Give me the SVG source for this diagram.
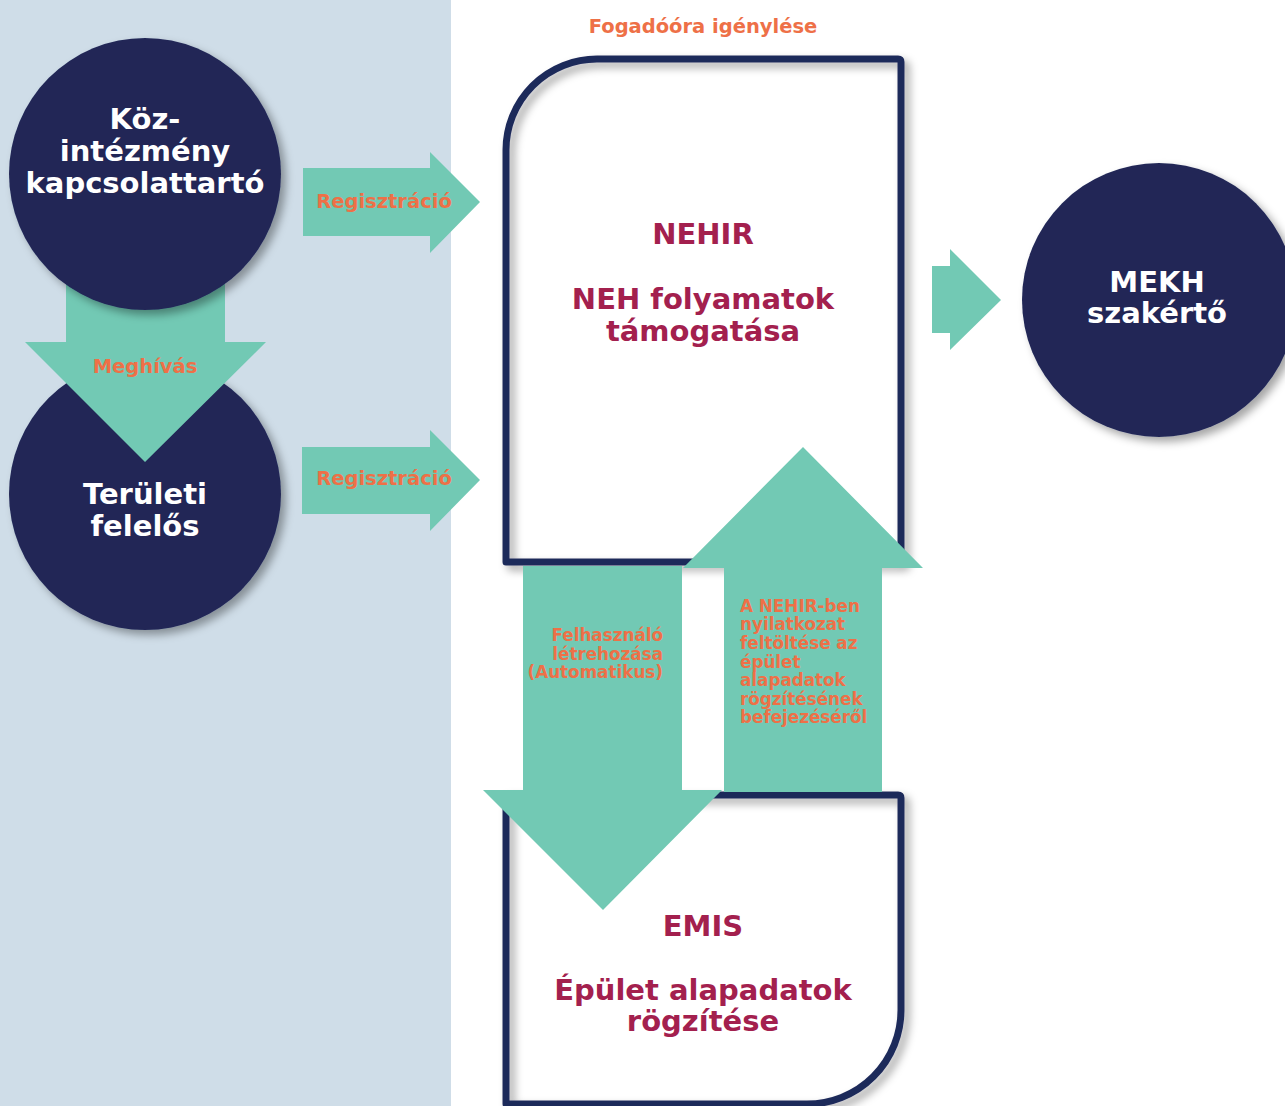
<svg xmlns="http://www.w3.org/2000/svg" width="1285" height="1106" viewBox="0 0 1285 1106">
<defs>
<filter id="sh" x="-20%" y="-20%" width="140%" height="140%">
<feDropShadow dx="5" dy="5" stdDeviation="4" flood-color="#000" flood-opacity="0.35"/>
</filter>
<style>
.circ{fill:#212857;filter:url(#sh)}
.box{fill:none;stroke:#1f2a5a;stroke-width:7;stroke-linejoin:round;filter:url(#sh)}
.arr{fill:#72c9b4}
.wt{fill:#fff;font-family:"DejaVu Sans",sans-serif;font-weight:bold;font-size:29px;text-anchor:middle}
.rt{fill:#a3204e;font-family:"DejaVu Sans",sans-serif;font-weight:bold;font-size:29px;text-anchor:middle}
.ot{fill:#ee7047;font-family:"DejaVu Sans",sans-serif;font-weight:bold;font-size:19.5px;text-anchor:middle}
.st{fill:#ee7047;font-family:"DejaVu Sans",sans-serif;font-weight:bold;font-size:16.8px}
</style>
</defs>
<rect x="0" y="0" width="1285" height="1106" fill="#fff"/>
<rect x="0" y="0" width="451" height="1106" fill="#cfdde8"/>
<text class="ot" x="703" y="33">Fogadóóra igénylése</text>

<g id="nehir">
<path class="box" d="M506,562 V150 A91,91 0 0 1 597,59 H898 Q901,59 901,62 V562 Z"/>
<text class="rt" x="703" y="244">NEHIR</text>
<text class="rt" x="703" y="309">NEH folyamatok</text>
<text class="rt" x="703" y="341">támogatása</text>
</g>

<g id="emis">
<path class="box" d="M506,1104 V795 H898 Q901,795 901,798 V1010 A94,94 0 0 1 807,1104 Z"/>
<text class="rt" x="703" y="936">EMIS</text>
<text class="rt" x="703" y="1000">Épület alapadatok</text>
<text class="rt" x="703" y="1031">rögzítése</text>
</g>

<g id="mekh">
<circle class="circ" cx="1159" cy="300" r="137"/>
<text class="wt" x="1157" y="292">MEKH</text>
<text class="wt" x="1157" y="323">szakértő</text>
</g>

<g id="teruleti">
<circle class="circ" cx="145" cy="494" r="136"/>
<text class="wt" x="145" y="504">Területi</text>
<text class="wt" x="145" y="536">felelős</text>
</g>

<g id="connectors">
<path class="arr" d="M66,280 H225 V342 H266 L145,462 L25,342 H66 Z"/>
<text class="ot" x="145" y="373">Meghívás</text>
<path class="arr" d="M303,168 H430 V152 L480,202 L430,253 V236 H303 Z"/>
<text class="ot" x="384" y="208">Regisztráció</text>
<path class="arr" d="M302,447 H430 V430 L480,480 L430,531 V514 H302 Z"/>
<text class="ot" x="384" y="485">Regisztráció</text>
<path class="arr" d="M932,266 H950 V249 L1001,300 L950,350 V333 H932 Z"/>
<path class="arr" d="M523,566 H682 V790 H722 L603,910 L483,790 H523 Z"/>
<text class="st" text-anchor="end"><tspan x="663" y="641">Felhasználó</tspan><tspan x="663" y="660">létrehozása</tspan><tspan x="663" y="678">(Automatikus)</tspan></text>
<path class="arr" d="M724,792 V568 H683 L803,447 L923,568 H882 V792 Z"/>
<text class="st"><tspan x="740" y="612">A NEHIR-ben</tspan><tspan x="740" y="630">nyilatkozat</tspan><tspan x="740" y="649">feltöltése az</tspan><tspan x="740" y="668">épület</tspan><tspan x="740" y="686">alapadatok</tspan><tspan x="740" y="705">rögzítésének</tspan><tspan x="740" y="723">befejezéséről</tspan></text>
</g>

<g id="kozintezmeny">
<circle class="circ" cx="145" cy="174" r="136"/>
<text class="wt" x="145" y="129">Köz-</text>
<text class="wt" x="145" y="161">intézmény</text>
<text class="wt" x="145" y="193">kapcsolattartó</text>
</g>
</svg>
